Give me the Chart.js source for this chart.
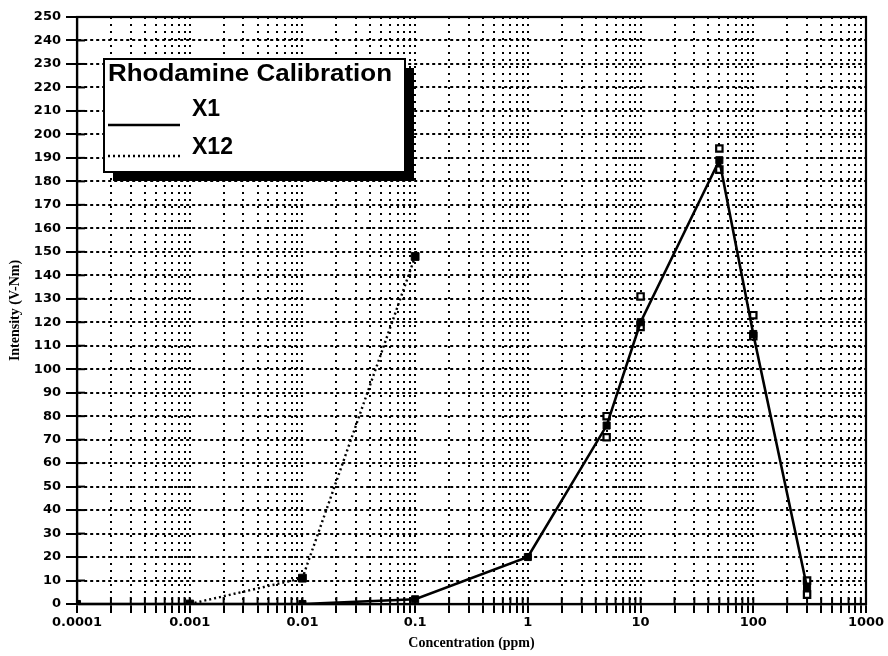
<!DOCTYPE html>
<html>
<head>
<meta charset="utf-8">
<script src="https://cdn.jsdelivr.net/npm/chart.js@4.4.1/dist/chart.umd.min.js"></script>
<style>
html, body { margin: 0; padding: 0; background: #fff; }
#caixa { width: 888px; height: 656px; }
</style>
</head>
<body>
<div id="caixa"><canvas id="graficoRodamina"></canvas></div>
<script>
// dados
const tituloLegenda = "Rhodamine Calibration";
const decadas = [0.0001, 0.001, 0.01, 0.1, 1, 10, 100, 1000];
const rotulosDecadas = ["0.0001", "0.001", "0.01", "0.1", "1", "10", "100", "1000"];

const x1Conc = [0.0001, 0.01, 0.1, 1, 5, 10, 50, 100, 300];
const x1Int = [0, 0, 2, 20, 76, 120, 189, 115, 7];

const x12Conc = [0.001, 0.01, 0.1];
const x12Int = [0, 11, 148];

// repeticoes (so marcadores)
const repConc = [5, 5, 10, 10, 50, 50, 100, 100, 300, 300];
const repInt = [80, 71, 131, 118, 194, 185, 123, 114, 10, 4];

const pares = (xs, ys) => xs.map((x, i) => ({ x: x, y: ys[i] }));

// ticks do eixo log: 1..9 em cada decada
const ticksX = [];
decadas.forEach((d, i) => {
    if (i === decadas.length - 1) { ticksX.push(d); return; }
    for (let k = 1; k <= 9; k++) ticksX.push(+(k * d).toPrecision(6));
});

const fonteTicks = { family: "DejaVu Sans", weight: "bold", size: 13 };
const fonteTitulo = { family: "Liberation Serif", weight: "bold", size: 14 };

function linha(ctx, x1, y1, x2, y2) {
    ctx.beginPath();
    ctx.moveTo(x1, y1);
    ctx.lineTo(x2, y2);
    ctx.stroke();
}

const moldura = {
    id: "moldura",
    afterDraw(chart) {
        const { ctx, chartArea: a, scales } = chart;
        ctx.save();
        ctx.strokeStyle = "#000";
        ctx.setLineDash([]);

        ctx.lineWidth = 2.2;
        ctx.strokeRect(a.left, a.top, a.right - a.left, a.bottom - a.top);

        // marcas que cruzam os eixos
        ctx.lineWidth = 2;
        scales.y.ticks.forEach(t => {
            const y = scales.y.getPixelForValue(t.value);
            linha(ctx, a.left, y, a.left + 8, y);
        });
        scales.x.ticks.forEach(t => {
            const x = scales.x.getPixelForValue(t.value);
            linha(ctx, x, a.bottom - 7, x, a.bottom);
        });

        // legenda com sombra
        const bx = 104, by = 59, bw = 301, bh = 113;
        ctx.fillStyle = "#000";
        ctx.fillRect(bx + 9, by + 9, bw, bh);
        ctx.fillStyle = "#fff";
        ctx.fillRect(bx, by, bw, bh);
        ctx.lineWidth = 2;
        ctx.strokeRect(bx, by, bw, bh);

        ctx.fillStyle = "#000";
        ctx.textBaseline = "middle";
        ctx.textAlign = "left";
        ctx.font = "bold 24px 'Liberation Sans'";
        const larg = ctx.measureText(tituloLegenda).width;
        ctx.save();
        ctx.translate(bx + 4, by + 15);
        ctx.scale(284 / larg, 1);
        ctx.fillText(tituloLegenda, 0, 0);
        ctx.restore();

        const ds = chart.data.datasets;
        ctx.font = "bold 23px 'Liberation Sans'";
        ctx.fillText(ds[0].label, bx + 88, by + 51);
        ctx.fillText(ds[1].label, bx + 88, by + 89);

        ctx.lineWidth = 2.5;
        linha(ctx, bx + 4, by + 66, bx + 76, by + 66);
        ctx.setLineDash([2, 3]);
        linha(ctx, bx + 4, by + 97, bx + 76, by + 97);

        ctx.restore();
    }
};

new Chart(document.getElementById("graficoRodamina"), {
    type: "scatter",
    data: {
        datasets: [
            {
                label: "X1",
                data: pares(x1Conc, x1Int),
                showLine: true,
                borderColor: "#000",
                borderWidth: 2.6,
                backgroundColor: "#000",
                pointStyle: "rect",
                pointRadius: 5,
                pointBorderWidth: 1
            },
            {
                label: "X12",
                data: pares(x12Conc, x12Int),
                showLine: true,
                borderColor: "#000",
                borderWidth: 2.4,
                borderDash: [2, 3],
                backgroundColor: "#000",
                pointStyle: "rect",
                pointRadius: 5.5,
                pointBorderWidth: 1
            },
            {
                label: "rep",
                data: pares(repConc, repInt),
                showLine: false,
                borderColor: "#000",
                backgroundColor: "#fff",
                pointStyle: "rect",
                pointRadius: 4.5,
                pointBorderWidth: 2.2
            }
        ]
    },
    options: {
        responsive: true,
        maintainAspectRatio: false,
        animation: false,
        layout: { padding: { top: 17, right: 22, left: 7, bottom: 4 } },
        plugins: {
            legend: { display: false },
            tooltip: { enabled: false }
        },
        scales: {
            x: {
                type: "logarithmic",
                min: decadas[0],
                max: decadas[decadas.length - 1],
                afterBuildTicks: eixo => {
                    eixo.ticks = ticksX.map(v => ({ value: v }));
                },
                afterFit: eixo => { eixo.height = 48; },
                ticks: {
                    autoSkip: false,
                    maxRotation: 0,
                    color: "#000",
                    font: fonteTicks,
                    padding: 2,
                    callback: v => {
                        const i = decadas.findIndex(d => Math.abs(d - v) / d < 1e-6);
                        return i >= 0 ? rotulosDecadas[i] : "";
                    }
                },
                grid: {
                    color: "#000",
                    lineWidth: 2,
                    tickLength: 9,
                    drawTicks: true
                },
                border: { display: true, color: "#000", width: 2.2, dash: [2, 5] },
                title: {
                    display: true,
                    text: "Concentration (ppm)",
                    color: "#000",
                    font: fonteTitulo,
                    padding: { top: 2, bottom: 0 }
                }
            },
            y: {
                min: 0,
                max: 250,
                afterFit: eixo => { eixo.width = 70; },
                ticks: {
                    stepSize: 10,
                    autoSkip: false,
                    color: "#000",
                    font: fonteTicks,
                    padding: 5
                },
                grid: {
                    color: "#000",
                    lineWidth: 2,
                    tickLength: 11
                },
                border: { display: true, color: "#000", width: 2.2, dash: [3, 3] },
                title: {
                    display: true,
                    text: "Intensity (V-Nm)",
                    color: "#000",
                    font: fonteTitulo,
                    padding: { top: 0, bottom: 0 }
                }
            }
        }
    },
    plugins: [moldura]
});
</script>
</body>
</html>
